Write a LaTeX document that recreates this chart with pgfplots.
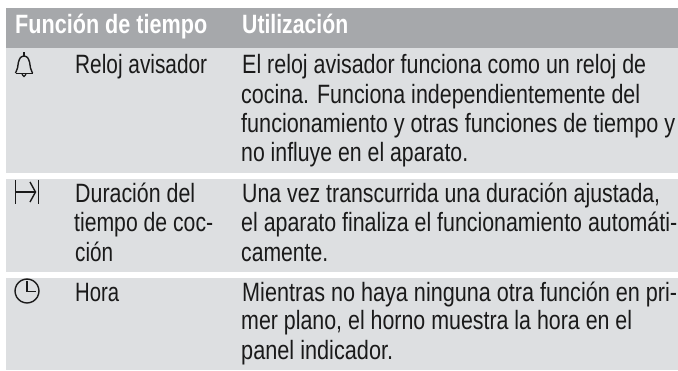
\documentclass[border=0pt]{standalone}
\usepackage{graphicx}
\usepackage{pgfplots}
\pgfplotsset{compat=1.18}
\usepackage{fontspec}
\setmainfont[FakeStretch=0.79]{Liberation Sans}
\definecolor{hd}{HTML}{A6A8AB}
\definecolor{rw}{HTML}{DDDFE1}
\definecolor{ink}{HTML}{1A1A1A}
\newcommand{\tl}[4]{\node[anchor=base west,inner sep=0pt,text=ink] at (axis cs:#1,#2) {\resizebox{#3pt}{\height}{\fontsize{26.5}{29}\selectfont #4}};}
\newcommand{\hl}[4]{\node[anchor=base west,inner sep=0pt,text=white] at (axis cs:#1,#2) {\resizebox{#3pt}{\height}{\fontsize{26.5}{29}\selectfont\bfseries #4}};}
\begin{document}
\begin{tikzpicture}
\useasboundingbox (0,0) rectangle (678pt,370pt);
\begin{axis}[at={(0,0)},anchor=south west,scale only axis,width=678pt,height=370pt,
 xmin=0,xmax=678,ymin=0,ymax=370,y dir=reverse,hide axis,clip=false]
\addplot[draw=none,fill=hd,forget plot] coordinates {(6,8)(678,8)(678,48)(6,48)} -- cycle;
\addplot[draw=none,fill=rw,forget plot] coordinates {(5.5,48)(678,48)(678,173)(5.5,173)} -- cycle;
\addplot[draw=none,fill=rw,forget plot] coordinates {(5.5,179)(678,179)(678,272)(5.5,272)} -- cycle;
\addplot[draw=none,fill=rw,forget plot] coordinates {(5.5,277.5)(678,277.5)(678,370)(5.5,370)} -- cycle;
% bell
\addplot[ink,line width=1.4pt,smooth,forget plot] coordinates {(15.5,73)(17.5,68)(18.5,62)(20.5,57.5)(24,56)(27.5,57.5)(29.5,62)(30.5,68)(32.5,73)};
\addplot[ink,line width=1.4pt,forget plot] coordinates {(15.5,73.5)(32.5,73.5)};
\addplot[ink,line width=1.4pt,forget plot] coordinates {(24,52)(24,56)};
\addplot[ink,line width=1.2pt,smooth,forget plot] coordinates {(22,74)(24,76.5)(26,74)};
% bar arrow bar
\addplot[ink,line width=1.4pt,forget plot] coordinates {(15.7,180)(15.7,204)};
\addplot[ink,line width=1.4pt,forget plot] coordinates {(38.3,180)(38.3,204)};
\addplot[ink,line width=1.4pt,forget plot] coordinates {(15.7,192)(35,192)};
\addplot[ink,line width=1.4pt,forget plot] coordinates {(30,182)(35.5,192)(30,202)};
% clock
\addplot[ink,line width=1.4pt,smooth cycle,forget plot] coordinates {(39,291)(37.4,285)(33,280.6)(27,279)(21,280.6)(16.6,285)(15,291)(16.6,297)(21,301.4)(27,303)(33,301.4)(37.4,297)};
\addplot[ink,line width=1.6pt,forget plot] coordinates {(27,281)(27,291.5)(35.5,291.5)};
% text
\hl{15}{33}{192}{Función de tiempo}
\hl{242}{33}{106}{Utilización}
\tl{75}{73}{132}{Reloj avisador}
\tl{242}{73}{404}{El reloj avisador funciona como un reloj de}
\tl{241}{103}{399}{cocina. Funciona independientemente del}
\tl{241}{132}{434}{funcionamiento y otras funciones de tiempo y}
\tl{241}{161.5}{227}{no influye en el aparato.}
\tl{75}{202}{120}{Duración del}
\tl{74}{231}{139}{tiempo de coc-}
\tl{75}{261}{38}{ción}
\tl{242}{202}{418}{Una vez transcurrida una duración ajustada,}
\tl{241}{231}{436}{el aparato finaliza el funcionamiento automáti-}
\tl{241}{261}{87}{camente.}
\tl{75}{301}{44}{Hora}
\tl{242}{301}{435}{Mientras no haya ninguna otra función en pri-}
\tl{241}{329.5}{391}{mer plano, el horno muestra la hora en el}
\tl{241}{359}{152}{panel indicador.}
\end{axis}
\end{tikzpicture}
\end{document}
